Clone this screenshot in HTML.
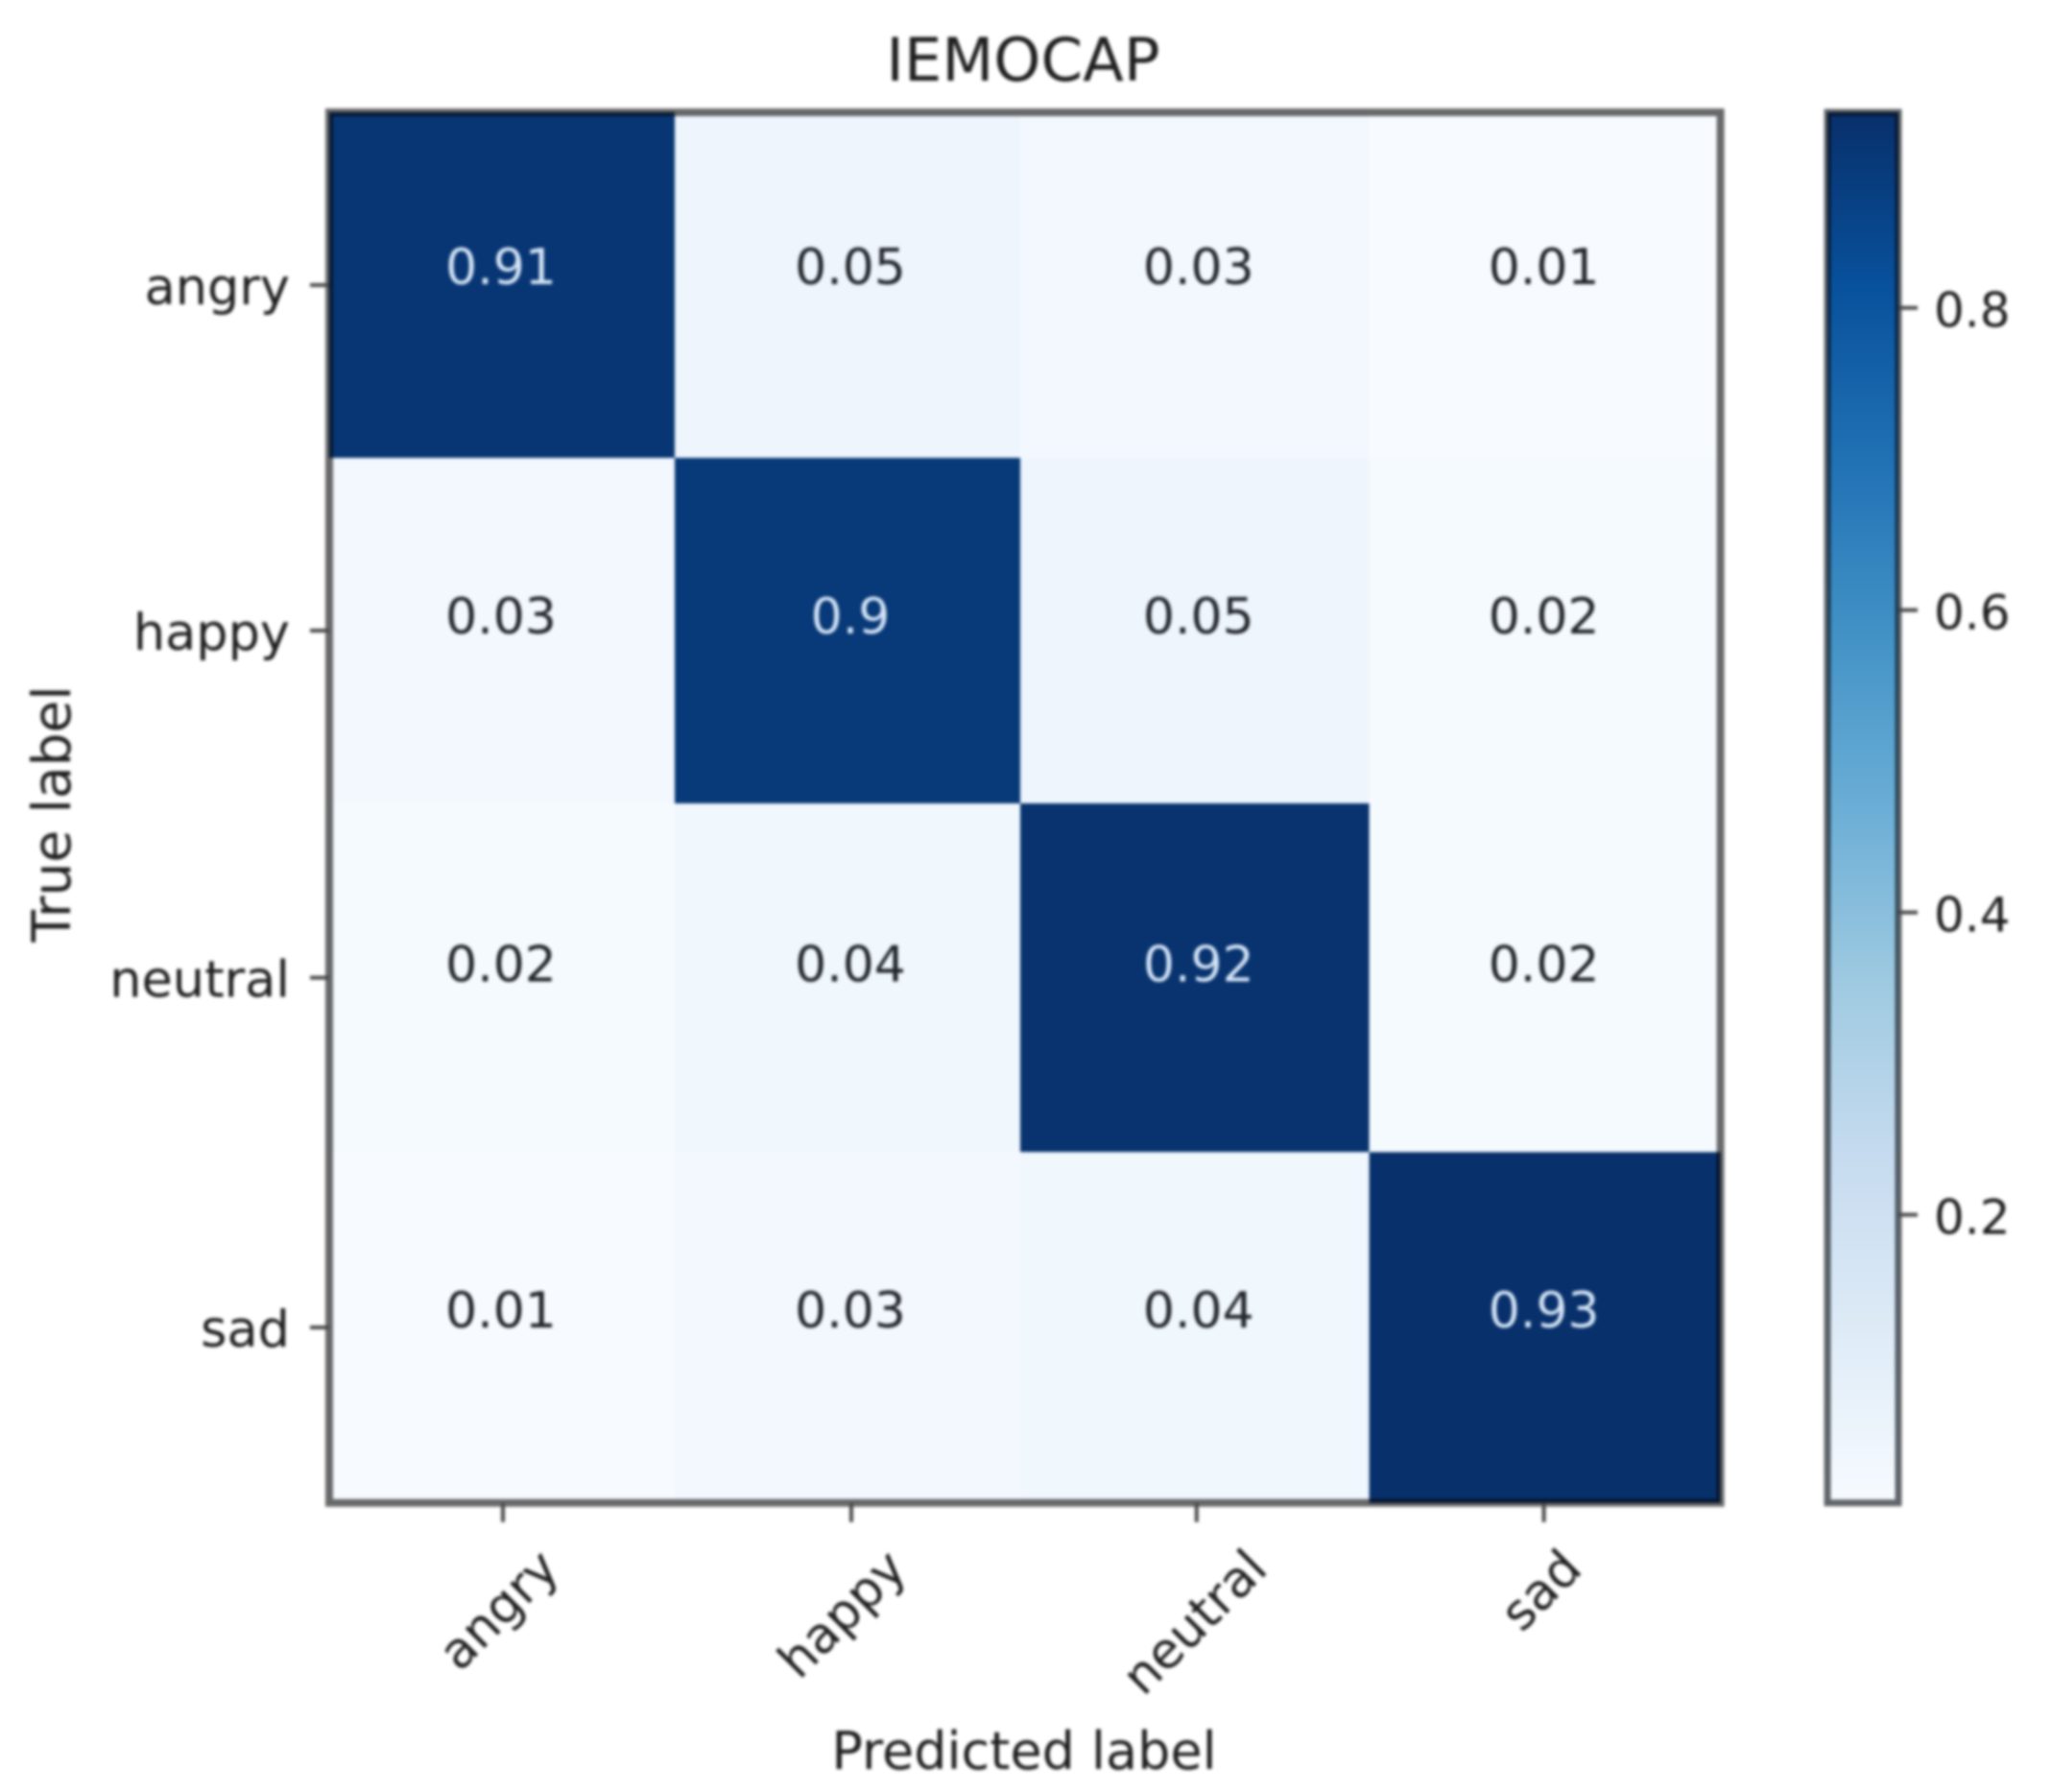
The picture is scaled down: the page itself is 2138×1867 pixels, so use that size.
<!DOCTYPE html>
<html lang="en">
<head>
<meta charset="utf-8">
<title>IEMOCAP confusion matrix</title>
<style>
  html, body { margin: 0; padding: 0; background: #fff; }
  #chart { display: block; width: 2138px; height: 1867px; filter: blur(1.5px); }
  text { font-family: "DejaVu Sans", "Liberation Sans", sans-serif; fill: #1f1f1f; }
  .frame { mix-blend-mode: multiply; }
</style>
</head>
<body>
<svg id="chart" xmlns="http://www.w3.org/2000/svg" width="2138" height="1867" viewBox="0 0 2138 1867">
  <defs>
    <linearGradient id="blues-gradient" x1="0" y1="1" x2="0" y2="0"></linearGradient>
  </defs>
  <rect x="0" y="0" width="2138" height="1867" fill="#ffffff"></rect>
  <g id="cells"></g>
  <g id="cell-labels"></g>
  <rect id="axes-frame" class="frame" fill="none" stroke="#6a6a6a" stroke-width="8"></rect>
  <g id="x-axis"></g>
  <g id="y-axis"></g>
  <rect id="colorbar-fill" fill="url(#blues-gradient)"></rect>
  <rect id="colorbar-frame" class="frame" fill="none" stroke="#62676b" stroke-width="7"></rect>
  <g id="colorbar-axis"></g>
  <text x="1066" y="84" font-size="62.5" text-anchor="middle">IEMOCAP</text>
  <text x="1067" y="1843" font-size="54" text-anchor="middle">Predicted label</text>
  <text x="73" y="848" font-size="55" text-anchor="middle" transform="rotate(-90 73 848)">True label</text>
</svg>
<script>
const categories = ["angry", "happy", "neutral", "sad"];
const row0 = [0.91, 0.05, 0.03, 0.01];
const row1 = [0.03, 0.9, 0.05, 0.02];
const row2 = [0.02, 0.04, 0.92, 0.02];
const row3 = [0.01, 0.03, 0.04, 0.93];
const colorbarTicks = [0.2, 0.4, 0.6, 0.8];
const colorMin = 0.01;
const colorMax = 0.93;
const bluesStops = ["#f7fbff", "#deebf7", "#c6dbef", "#9ecae1", "#6baed6", "#4292c6", "#2171b5", "#08519c", "#08306b"];

const rows = [row0, row1, row2, row3];
const NS = "http://www.w3.org/2000/svg";

function make(tag, parent) {
  const el = document.createElementNS(NS, tag);
  parent.appendChild(el);
  return el;
}
function hexToRgb(h) {
  return [parseInt(h.slice(1, 3), 16), parseInt(h.slice(3, 5), 16), parseInt(h.slice(5, 7), 16)];
}
function colorScale(v) {
  const t = Math.max(0, Math.min(1, (v - colorMin) / (colorMax - colorMin))) * (bluesStops.length - 1);
  const i = Math.min(bluesStops.length - 2, Math.floor(t));
  const a = hexToRgb(bluesStops[i]);
  const b = hexToRgb(bluesStops[i + 1]);
  const f = t - i;
  return "rgb(" + a.map((c, k) => Math.round(c + (b[k] - c) * f)).join(",") + ")";
}
/* The source raster is slightly non-uniformly resampled, so the later bands run a little wider. */
function xEdge(i) { return 343 + 360 * i + (i > 2 ? 1.2 * i * (i - 2) : 0); }
function yEdge(i) { return 117 + 360 * i + (i > 2 ? 1.1 * i * (i - 2) : 0); }
function xCenter(i) { return (xEdge(i) + xEdge(i + 1)) / 2; }
function yCenter(i) { return (yEdge(i) + yEdge(i + 1)) / 2; }
/* Small per-band text offsets seen in the source raster. */
function cellTextX(i) { return xCenter(i) + [-1, 3, 4, -1][i]; }
function cellTextY(i) { return yCenter(i) + [-1, 3, 4, 0][i]; }
function xLabelAnchorX(i) { return xCenter(i) + 52 + [10, 12, 26, -11][i]; }
function colorbarY(v) {
  return yEdge(categories.length) - (v - colorMin) / (colorMax - colorMin) * (yEdge(categories.length) - yEdge(0));
}

const cellsG = document.getElementById("cells");
const labelsG = document.getElementById("cell-labels");
const threshold = (colorMin + colorMax) / 2;
rows.forEach((row, r) => {
  row.forEach((value, c) => {
    const cell = make("rect", cellsG);
    
    
    cell.setAttribute("x", xEdge(c));
    cell.setAttribute("y", yEdge(r));
    cell.setAttribute("width", xEdge(c + 1) - xEdge(c));
    cell.setAttribute("height", yEdge(r + 1) - yEdge(r));
    cell.setAttribute("fill", colorScale(value));

    const label = make("text", labelsG);
    
    
    label.setAttribute("x", cellTextX(c));
    label.setAttribute("y", cellTextY(r));
    label.setAttribute("font-size", "52");
    label.setAttribute("text-anchor", "middle");
    label.style.fill = value > threshold ? "#d3e3f5" : "#22262c";
    label.textContent = String(value);
  });
});

const n = categories.length;
const frame = document.getElementById("axes-frame");
frame.setAttribute("x", xEdge(0));
frame.setAttribute("y", yEdge(0));
frame.setAttribute("width", xEdge(n) - xEdge(0));
frame.setAttribute("height", yEdge(n) - yEdge(0));

const xAxisG = document.getElementById("x-axis");
const yAxisG = document.getElementById("y-axis");
categories.forEach((name, i) => {
  const xTick = make("line", xAxisG);
  
  
  xTick.setAttribute("x1", xCenter(i) + [1, 4, 2, -1][i]);
  xTick.setAttribute("x2", xCenter(i) + [1, 4, 2, -1][i]);
  xTick.setAttribute("y1", yEdge(n));
  xTick.setAttribute("y2", yEdge(n) + 20);
  xTick.setAttribute("stroke", "#4a4a4a");
  xTick.setAttribute("stroke-width", "4");

  const ax = xLabelAnchorX(i);
  const ay = yEdge(n) + 71;
  const xLabel = make("text", xAxisG);
  
  
  xLabel.setAttribute("x", ax);
  xLabel.setAttribute("y", ay);
  xLabel.setAttribute("font-size", "52");
  xLabel.setAttribute("text-anchor", "end");
  xLabel.setAttribute("transform", "rotate(-45 " + ax + " " + ay + ")");
  xLabel.textContent = name;

  const yTick = make("line", yAxisG);
  
  
  yTick.setAttribute("x1", xEdge(0) - 20);
  yTick.setAttribute("x2", xEdge(0));
  yTick.setAttribute("y1", yCenter(i));
  yTick.setAttribute("y2", yCenter(i));
  yTick.setAttribute("stroke", "#4a4a4a");
  yTick.setAttribute("stroke-width", "4");

  const yLabel = make("text", yAxisG);
  
  
  yLabel.setAttribute("x", xEdge(0) - 41);
  yLabel.setAttribute("y", yCenter(i) + 20);
  yLabel.setAttribute("font-size", "52.5");
  yLabel.setAttribute("text-anchor", "end");
  yLabel.textContent = name;
});

const grad = document.getElementById("blues-gradient");
bluesStops.forEach((color, i) => {
  const stop = make("stop", grad);
  stop.setAttribute("offset", i / (bluesStops.length - 1));
  stop.setAttribute("stop-color", color);
});
const cbLeft = 1904;
const cbWidth = 74;
["colorbar-fill", "colorbar-frame"].forEach(id => {
  const el = document.getElementById(id);
  el.setAttribute("x", cbLeft);
  el.setAttribute("y", yEdge(0));
  el.setAttribute("width", cbWidth);
  el.setAttribute("height", yEdge(n) - yEdge(0));
});
const cbAxisG = document.getElementById("colorbar-axis");
colorbarTicks.forEach(v => {
  const tick = make("line", cbAxisG);
  
  
  tick.setAttribute("x1", cbLeft + cbWidth);
  tick.setAttribute("x2", cbLeft + cbWidth + 20);
  tick.setAttribute("y1", colorbarY(v) - 1);
  tick.setAttribute("y2", colorbarY(v) - 1);
  tick.setAttribute("stroke", "#4a4a4a");
  tick.setAttribute("stroke-width", "4");

  const label = make("text", cbAxisG);
  
  
  label.setAttribute("x", cbLeft + cbWidth + 37);
  label.setAttribute("y", colorbarY(v) + 19);
  label.setAttribute("font-size", "50");
  label.textContent = v.toFixed(1);
});
</script>
</body>
</html>
